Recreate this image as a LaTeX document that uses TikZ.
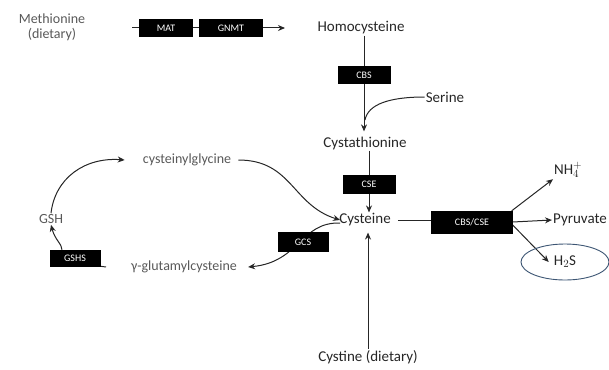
\documentclass[tikz,border=0pt]{standalone}
\usepackage{fontspec}
\setmainfont{Carlito}
\usetikzlibrary{arrows.meta}
\pgfdeclarelayer{bg}
\pgfsetlayers{bg,main}
\begin{document}
\begin{tikzpicture}[x=1pt,y=-1pt,
  lab/.style={text=black!85, font=\fontsize{15}{16}\selectfont, inner sep=1pt},
  lab2/.style={text=black!65, font=\fontsize{14}{15}\selectfont, inner sep=1pt},
  enz/.style={fill=black, draw=black, text=white, font=\fontsize{10}{11}\selectfont, inner sep=0pt, minimum height=17pt},
  arr/.style={-{Stealth[length=7pt,width=6pt]}},
  line/.style={draw=black!85, line width=1pt}
]
\useasboundingbox (0,0) rectangle (609,369);
% nodes
\node[lab2, align=center] (met) at (52,27) {Methionine\\(dietary)};
\node[enz, minimum width=53pt] (mat) at (166,28) {MAT};
\node[enz, minimum width=63pt] (gnmt) at (231,28) {GNMT};
\coordinate (m0) at (132,28);
\coordinate (m1) at (285,28);
\node[lab] (homo) at (361,28) {Homocysteine};
\node[enz, minimum width=52pt] (cbs) at (364,75) {CBS};
\node[lab] (ser) at (445,97) {Serine};
\coordinate (sj) at (365,120);
\node[lab] (cysta) at (365,143) {Cystathionine};
\node[enz, minimum width=52pt, minimum height=18pt] (cse) at (369,184) {CSE};
\node[lab] (cys) at (365,220) {Cysteine};
\node[enz, minimum width=81pt, minimum height=22pt] (cbscse) at (472,222) {CBS/CSE};
\node[lab, anchor=west] (nh) at (553,170) {NH$_4^+$};
\node[lab, anchor=west] (pyr) at (552,220) {Pyruvate};
\node[lab] (h2s) at (565,262) {H$_2$S};
\node[lab] (cyst) at (368,357) {Cystine (dietary)};
\node[lab2] (cyg) at (187,160) {cysteinylglycine};
\node[lab2] (gsh) at (51,219) {GSH};
\node[enz, minimum width=50pt, minimum height=16pt] (gs) at (75,258) {GSHS};
\coordinate (gst) at (106,267);
\node[lab2] (ggc) at (184,267) {γ-glutamylcysteine};
\node[enz, minimum width=50pt, minimum height=19pt] (gcs) at (303,242) {GCS};
\draw[draw={rgb,255:red,60;green,85;blue,115}, line width=0.9pt] (h2s) ellipse [x radius=44pt, y radius=18pt];
% connectors
\begin{pgfonlayer}{bg}
\draw[line] (m0) -- (mat);
\draw[line] (mat) -- (gnmt);
\draw[line, arr] (gnmt) -- (m1);
\draw[line] (homo.south -| cbs) -- (cbs);
\draw[line, arr] (cbs) -- ([yshift=4pt]cysta.north -| cbs);
\draw[line] (ser.west) .. controls (390,97) and (368,104) .. (sj);
\draw[line] (cysta.south -| cse) -- (cse);
\draw[line, arr] (cse) -- (cys.north -| cse);
\draw[line] ([xshift=6pt]cys.east) -- ([xshift=6pt]cys.east -| cbscse.west);
\draw[line, arr] ([xshift=-1pt]cbscse.north east) -- (nh.south west);
\draw[line, arr] (cbscse.east) -- (pyr.west);
\draw[line, arr] ([yshift=-3pt]cbscse.east) -- ([xshift=-4pt]h2s.west);
\draw[line, arr] (cyst.north) -- ([yshift=-5pt]cyst.north |- cys.south);
\draw[line, arr] (gsh.north) .. controls (55,178) and (85,157) .. ([xshift=-17pt]cyg.west);
\draw[line, arr] ([xshift=6pt]cyg.east) .. controls (292,160) and (292,205) .. ([xshift=2pt]cys.west);
\draw[line, arr] ([xshift=2pt,yshift=-3pt]cys.west) .. controls (300,222) and (300,262) .. ([xshift=10pt]ggc.east);
\draw[line, arr] ([xshift=-13pt]gs.north) .. controls (62,244) and (55,240) .. (gsh.south);
\draw[line] (gs.south east) -- (gst);
\end{pgfonlayer}
\end{tikzpicture}
\end{document}
